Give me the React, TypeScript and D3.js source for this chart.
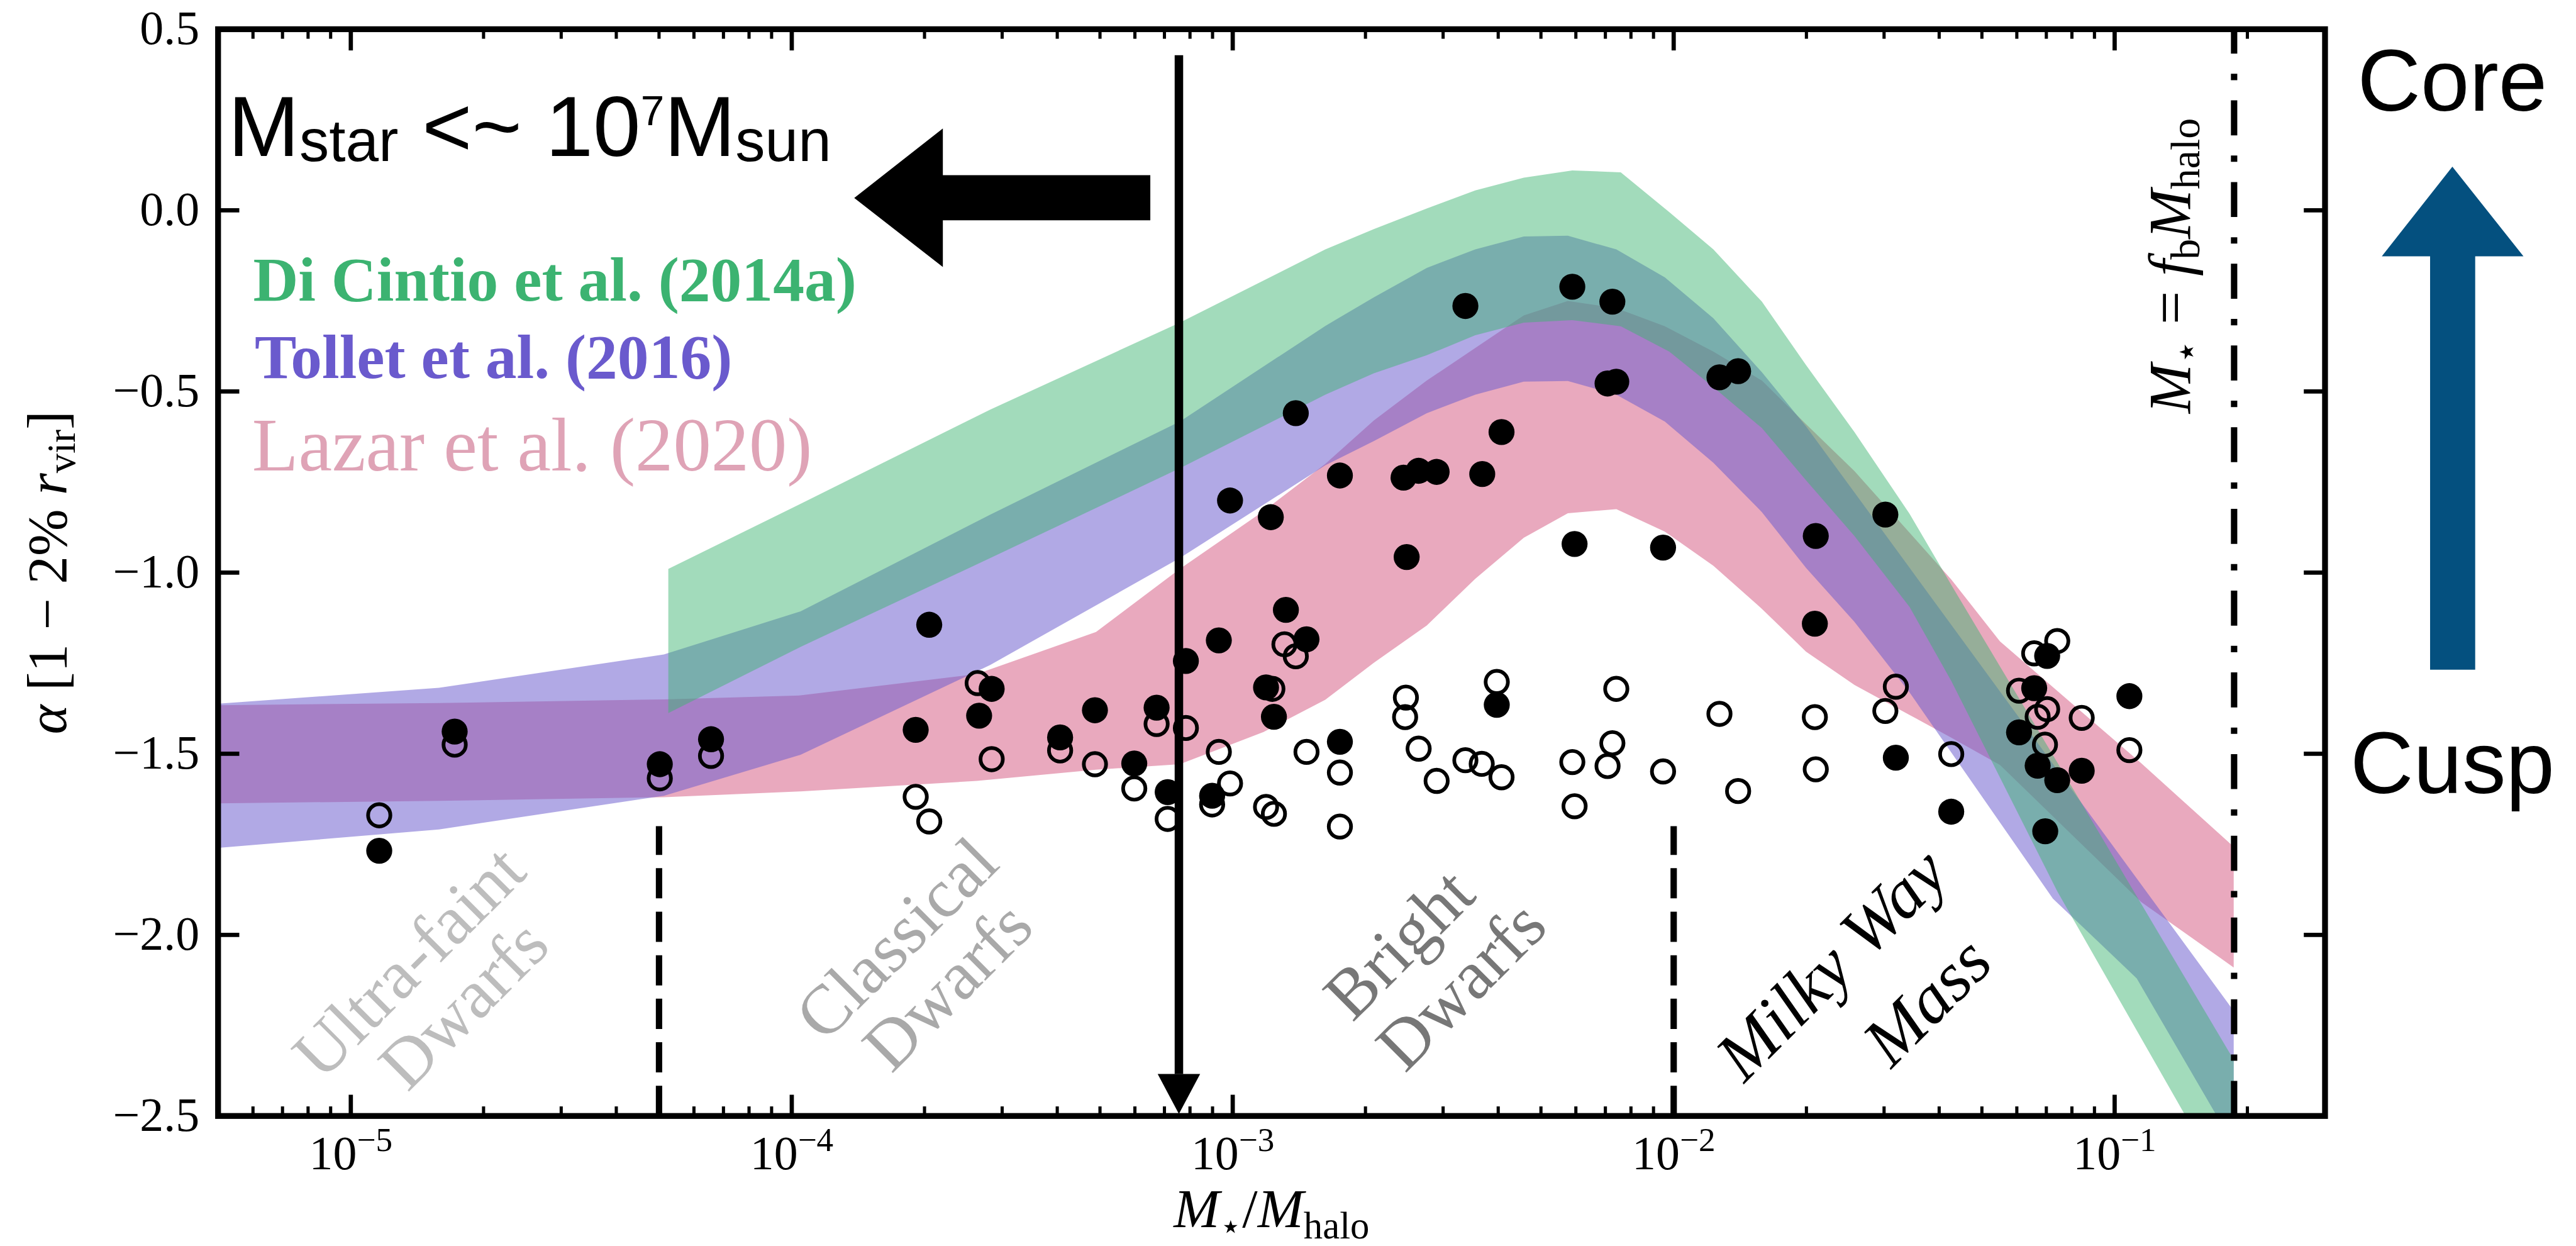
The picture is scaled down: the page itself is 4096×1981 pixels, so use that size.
import React from 'react';
import * as d3 from 'd3';

// Figure is laid out in figure units and scaled to the output size by the viewBox
const FIG_W = 4855;
const FIG_H = 2348;
const OUT_W = 4096;
const OUT_H = 1981;

const frame = { left: 411, right: 4382, top: 55, bottom: 2103 };

// Axes
const xDomain: [number, number] = [5e-6, 0.3];
const yDomain: [number, number] = [-2.5, 0.5];
const yTickValues = [-2.5, -2.0, -1.5, -1.0, -0.5, 0.0, 0.5];
const xDecadeExponents = [-5, -4, -3, -2, -1];

// Inner slope of each simulated galaxy, filled markers
const filledRatio = [
  1.16e-5, 1.72e-5, 5.02e-5, 6.56e-5, 2.05e-4, 2.84e-4, 1.91e-4, 2.66e-4, 4.06e-4, 4.87e-4,
  6.72e-4, 5.98e-4, 7.12e-4, 7.83e-4, 9.3e-4, 8.98e-4, 9.86e-4, 1.22e-3, 1.39e-3, 1.75e-3,
  1.32e-3, 1.47e-3, 1.19e-3, 1.24e-3, 1.75e-3, 3.37e-3, 5.89e-3, 7.26e-3, 7.08e-3, 7.41e-3,
  0.0127, 0.014, 4.07e-3, 2.44e-3, 2.64e-3, 2.9e-3, 3.68e-3, 2.48e-3, 5.96e-3, 9.46e-3,
  0.021, 0.0302, 0.0209, 3.97e-3, 0.0319, 0.0426, 0.0703, 0.0657, 0.0607, 0.0669,
  0.0741, 0.0842, 0.108, 0.0696,
];
const filledAlpha = [
  -1.768, -1.439, -1.529, -1.46, -1.144, -1.321, -1.434, -1.395, -1.455, -1.38,
  -1.373, -1.527, -1.606, -1.244, -1.187, -1.616, -0.801, -0.847, -0.56, -0.732,
  -1.103, -1.184, -1.317, -1.398, -1.467, -0.264, -0.211, -0.252, -0.478, -0.473,
  -0.461, -0.444, -0.612, -0.738, -0.719, -0.722, -0.728, -0.957, -0.921, -0.931,
  -0.899, -0.84, -1.141, -1.365, -1.511, -1.66, -1.23, -1.319, -1.441, -1.533,
  -1.573, -1.547, -1.341, -1.714,
];

// Inner slope of each simulated galaxy, open markers
const openRatio = [
  1.16e-5, 1.72e-5, 5.02e-5, 6.56e-5, 2.64e-4, 2.84e-4, 1.91e-4, 2.05e-4, 4.06e-4, 4.87e-4,
  6.72e-4, 5.98e-4, 7.12e-4, 7.83e-4, 9.3e-4, 8.98e-4, 9.86e-4, 1.31e-3, 1.39e-3, 1.23e-3,
  1.47e-3, 1.75e-3, 1.19e-3, 1.24e-3, 1.75e-3, 3.97e-3, 2.47e-3, 2.46e-3, 2.64e-3, 2.9e-3,
  3.37e-3, 3.67e-3, 4.07e-3, 7.41e-3, 7.26e-3, 5.89e-3, 7.08e-3, 9.46e-3, 0.0127, 0.014,
  0.0209, 0.021, 0.0319, 0.0302, 5.96e-3, 0.0426, 0.0657, 0.0741, 0.0607, 0.0703,
  0.0669, 0.0695, 0.0842, 0.108,
];
const openAlpha = [
  -1.67, -1.475, -1.568, -1.506, -1.305, -1.515, -1.619, -1.687, -1.491, -1.529,
  -1.418, -1.596, -1.68, -1.429, -1.495, -1.64, -1.582, -1.198, -1.231, -1.321,
  -1.495, -1.552, -1.647, -1.666, -1.701, -1.302, -1.345, -1.399, -1.486, -1.575,
  -1.518, -1.528, -1.565, -1.321, -1.471, -1.523, -1.534, -1.549, -1.39, -1.603,
  -1.399, -1.543, -1.315, -1.382, -1.645, -1.501, -1.223, -1.189, -1.326, -1.377,
  -1.398, -1.475, -1.401, -1.49,
];

// Di Cintio et al. (2014a) relation, log10(M*/Mhalo) with lower / upper alpha
const diCintioLogRatio = [-4.28, -3.98, -3.55, -3.12, -2.79, -2.68, -2.56, -2.45, -2.34, -2.23, -2.12, -2.01, -1.91, -1.8, -1.7, -1.59, -1.465, -1.37, -1.13, -0.842, -0.73];
const diCintioLow = [-1.388, -1.205, -0.96, -0.712, -0.509, -0.45, -0.4, -0.345, -0.31, -0.303, -0.32, -0.39, -0.488, -0.601, -0.745, -0.899, -1.095, -1.3, -1.88, -2.494, -2.74];
const diCintioHigh = [-0.99, -0.81, -0.55, -0.31, -0.108, -0.052, 0.005, 0.055, 0.09, 0.11, 0.105, -0.005, -0.108, -0.252, -0.427, -0.612, -0.838, -1.035, -1.524, -2.115, -2.345];

// Tollet et al. (2016) relation
const tolletLogRatio = [-5.3, -4.8, -4.29, -3.98, -3.55, -3.12, -2.79, -2.68, -2.56, -2.45, -2.34, -2.24, -2.13, -2.02, -1.91, -1.8, -1.7, -1.59, -1.465, -1.14, -0.95, -0.73];
const tolletLow = [-1.76, -1.709, -1.616, -1.503, -1.255, -0.96, -0.704, -0.637, -0.56, -0.509, -0.473, -0.471, -0.509, -0.583, -0.697, -0.833, -0.987, -1.136, -1.331, -1.9, -2.12, -2.58];
const tolletHigh = [-1.362, -1.318, -1.226, -1.107, -0.84, -0.583, -0.319, -0.24, -0.159, -0.108, -0.072, -0.07, -0.108, -0.185, -0.298, -0.447, -0.596, -0.779, -0.987, -1.528, -1.844, -2.21];

// Lazar et al. (2020) relation
const lazarLogRatio = [-5.3, -4.8, -4.29, -3.98, -3.58, -3.31, -3.12, -2.93, -2.79, -2.68, -2.56, -2.45, -2.34, -2.24, -2.13, -2.02, -1.91, -1.8, -1.7, -1.59, -1.465, -1.37, -1.26, -0.94, -0.73];
const lazarLow = [-1.637, -1.63, -1.62, -1.604, -1.575, -1.544, -1.529, -1.44, -1.351, -1.249, -1.146, -1.017, -0.904, -0.836, -0.825, -0.887, -0.981, -1.1, -1.218, -1.31, -1.393, -1.456, -1.531, -1.909, -2.09];
const lazarHigh = [-1.366, -1.36, -1.35, -1.339, -1.28, -1.164, -0.99, -0.83, -0.7, -0.58, -0.47, -0.38, -0.29, -0.25, -0.27, -0.32, -0.39, -0.47, -0.59, -0.72, -0.89, -1.02, -1.19, -1.526, -1.757];

// Galaxy class boundaries and the baryon-fraction limit
const classBoundaries = [5e-5, 1e-2];
const classBoundaryTop = -1.7;
const baryonFraction = 0.1866;
const mstarCutRatio = 7.55e-4;

const serif = "'Liberation Serif', 'Times New Roman', serif";
const sans = "'Liberation Sans', Arial, Helvetica, sans-serif";

const bands = [
  { name: 'lazar', logX: lazarLogRatio, lo: lazarLow, hi: lazarHigh, color: '#db7093', opacity: 0.6 },
  { name: 'tollet', logX: tolletLogRatio, lo: tolletLow, hi: tolletHigh, color: '#6a5acd', opacity: 0.52 },
  { name: 'dicintio', logX: diCintioLogRatio, lo: diCintioLow, hi: diCintioHigh, color: '#3cb371', opacity: 0.48 },
];

const classLabels = [
  { lines: ['Ultra-faint', 'Dwarfs'], centers: [[769, 1811], [872, 1891]], color: '#bdbdbd', italic: false },
  { lines: ['Classical', 'Dwarfs'], centers: [[1688, 1767], [1784, 1856]], color: '#a9a9a9', italic: false },
  { lines: ['Bright', 'Dwarfs'], centers: [[2635, 1777], [2752, 1855]], color: '#777777', italic: false },
  { lines: ['Milky Way', 'Mass'], centers: [[3450, 1815], [3630, 1885]], color: '#000000', italic: true },
];

export default function App() {
  const x = d3.scaleLog().domain(xDomain).range([frame.left, frame.right]);
  const y = d3.scaleLinear().domain(yDomain).range([frame.bottom, frame.top]);

  const bandPath = (logX: number[], lo: number[], hi: number[]) =>
    d3
      .area<number>()
      .x((i) => x(10 ** logX[i]))
      .y0((i) => y(lo[i]))
      .y1((i) => y(hi[i]))(d3.range(logX.length)) || '';

  const minorTicks: number[] = [];
  for (let e = -6; e <= -1; e++) {
    for (let m = 2; m <= 9; m++) {
      const v = m * 10 ** e;
      if (v > xDomain[0] && v < xDomain[1]) minorTicks.push(v);
    }
  }

  const majorLen = 40;
  const minorLen = 18;
  const fmtY = (v: number) => (v < 0 ? '\u2212' : '') + Math.abs(v).toFixed(1);

  const arrowCx = x(mstarCutRatio);

  return (
    <div style={{ position: 'absolute', left: 0, top: 0 }}>
      <svg width={OUT_W} height={OUT_H} viewBox={`0 0 ${FIG_W} ${FIG_H}`} style={{ display: 'block', background: '#fff' }}>
        <defs>
          <clipPath id="plot-clip">
            <rect x={frame.left} y={frame.top} width={frame.right - frame.left} height={frame.bottom - frame.top} />
          </clipPath>
        </defs>
        <rect x={0} y={0} width={FIG_W} height={FIG_H} fill="#fff" />

        {/* model bands */}
        <g clipPath="url(#plot-clip)">
          {bands.map((b) => (
            <path key={b.name} d={bandPath(b.logX, b.lo, b.hi)} fill={b.color} fillOpacity={b.opacity} stroke="none" />
          ))}
        </g>

        {/* class boundaries */}
        {classBoundaries.map((v) => (
          <line key={v} x1={x(v)} x2={x(v)} y1={y(yDomain[0])} y2={y(classBoundaryTop)} stroke="#000" strokeWidth={12} strokeDasharray="57 25" />
        ))}
        <line x1={x(baryonFraction)} x2={x(baryonFraction)} y1={y(yDomain[0])} y2={y(yDomain[1])} stroke="#000" strokeWidth={12} strokeDasharray="66 38 12 38" />

        {/* class labels */}
        {classLabels.map((c) =>
          c.lines.map((line, i) => (
            <text
              key={c.lines[0] + i}
              x={c.centers[i][0]}
              y={c.centers[i][1]}
              dy="0.35em"
              textAnchor="middle"
              transform={`rotate(-45 ${c.centers[i][0]} ${c.centers[i][1]})`}
              fontFamily={serif}
              fontSize={131}
              fontStyle={c.italic ? 'italic' : 'normal'}
              fill={c.color}
            >
              {line}
            </text>
          ))
        )}

        {/* galaxies */}
        <g clipPath="url(#plot-clip)">
          {openRatio.map((r, i) => (
            <circle key={'o' + i} cx={x(r)} cy={y(openAlpha[i])} r={21} fill="none" stroke="#000" strokeWidth={7} />
          ))}
          {filledRatio.map((r, i) => (
            <circle key={'f' + i} cx={x(r)} cy={y(filledAlpha[i])} r={24.5} fill="#000" />
          ))}
        </g>

        {/* frame and ticks */}
        <rect x={frame.left} y={frame.top} width={frame.right - frame.left} height={frame.bottom - frame.top} fill="none" stroke="#000" strokeWidth={11} />
        {xDecadeExponents.map((e) => {
          const px = x(10 ** e);
          return (
            <g key={'xM' + e}>
              <line x1={px} x2={px} y1={frame.bottom} y2={frame.bottom - majorLen} stroke="#000" strokeWidth={8} />
              <line x1={px} x2={px} y1={frame.top} y2={frame.top + majorLen} stroke="#000" strokeWidth={8} />
              <text x={px} y={2203} textAnchor="middle" fontFamily={serif} fontSize={90} fill="#000">
                10<tspan fontSize={63} dy={-34}>{'\u2212' + Math.abs(e)}</tspan>
              </text>
            </g>
          );
        })}
        {minorTicks.map((v) => (
          <g key={'xm' + v}>
            <line x1={x(v)} x2={x(v)} y1={frame.bottom} y2={frame.bottom - minorLen} stroke="#000" strokeWidth={6} />
            <line x1={x(v)} x2={x(v)} y1={frame.top} y2={frame.top + minorLen} stroke="#000" strokeWidth={6} />
          </g>
        ))}
        {yTickValues.map((v) => (
          <g key={'y' + v}>
            <line x1={frame.left} x2={frame.left + majorLen} y1={y(v)} y2={y(v)} stroke="#000" strokeWidth={8} />
            <line x1={frame.right} x2={frame.right - majorLen} y1={y(v)} y2={y(v)} stroke="#000" strokeWidth={8} />
            <text x={376} y={y(v) + 28} textAnchor="end" fontFamily={serif} fontSize={90} fill="#000">
              {fmtY(v)}
            </text>
          </g>
        ))}

        {/* axis titles */}
        <text x={(frame.left + frame.right) / 2} y={2312} textAnchor="middle" fontFamily={serif} fontSize={104} fill="#000">
          <tspan fontStyle="italic">M</tspan>
          <tspan fontSize={68} dy={22}>{'\u22c6'}</tspan>
          <tspan dy={-22}>/</tspan>
          <tspan fontStyle="italic">M</tspan>
          <tspan fontSize={72} dy={22}>halo</tspan>
        </text>
        <text transform={`translate(124 ${(frame.top + frame.bottom) / 2}) rotate(-90)`} textAnchor="middle" fontFamily={serif} fontSize={106} fill="#000">
          <tspan fontStyle="italic">{'\u03b1'}</tspan>
          <tspan>{' [1 \u2212 2% '}</tspan>
          <tspan fontStyle="italic">r</tspan>
          <tspan fontSize={74} dy={17}>vir</tspan>
          <tspan dy={-17}>]</tspan>
        </text>
        <text transform={`translate(4128 779) rotate(-90)`} textAnchor="start" fontFamily={serif} fontSize={112} fill="#000">
          <tspan fontStyle="italic">M</tspan>
          <tspan fontSize={74} dy={17}>{'\u22c6'}</tspan>
          <tspan dy={-17}>{'  =  '}</tspan>
          <tspan fontStyle="italic">f</tspan>
          <tspan fontSize={78} dy={17}>b</tspan>
          <tspan dy={-17} fontStyle="italic">M</tspan>
          <tspan fontSize={78} dy={17}>halo</tspan>
        </text>

        {/* relation labels */}
        <text x={477} y={567} fontFamily={serif} fontWeight="bold" fontSize={118} fill="#3cb371">Di Cintio et al. (2014a)</text>
        <text x={480} y={712} fontFamily={serif} fontWeight="bold" fontSize={118} fill="#6a5acd">Tollet et al. (2016)</text>
        <text x={475} y={886} fontFamily={serif} fontSize={143} fill="#dfa3b6">Lazar et al. (2020)</text>

        {/* stellar-mass cut */}
        <text x={430} y={294} fontFamily={sans} fontSize={161} fill="#000">
          M<tspan fontSize={112} dy={9}>star</tspan>
          <tspan dy={-9}>{' <~ 10'}</tspan>
          <tspan fontSize={80} dy={-58}>7</tspan>
          <tspan dy={58}>M</tspan>
          <tspan fontSize={112} dy={9}>sun</tspan>
        </text>
        <polygon points="1610,373 1777,242 1777,330 2168,330 2168,415 1777,415 1777,503" fill="#000" />
        <rect x={arrowCx - 8} y={104} width={16} height={2024 - 104} fill="#000" />
        <polygon points={`${arrowCx - 40},2024 ${arrowCx + 40},2024 ${arrowCx},${2099}`} fill="#000" />

        {/* core / cusp indicator */}
        <text x={4622} y={209} textAnchor="middle" fontFamily={sans} fontSize={165} fill="#000">Core</text>
        <text x={4622} y={1495} textAnchor="middle" fontFamily={sans} fontSize={165} fill="#000">Cusp</text>
        <polygon points="4622,314 4756,483 4665,483 4665,1262 4580,1262 4580,483 4489,483" fill="#04507f" />
      </svg>
    </div>
  );
}
